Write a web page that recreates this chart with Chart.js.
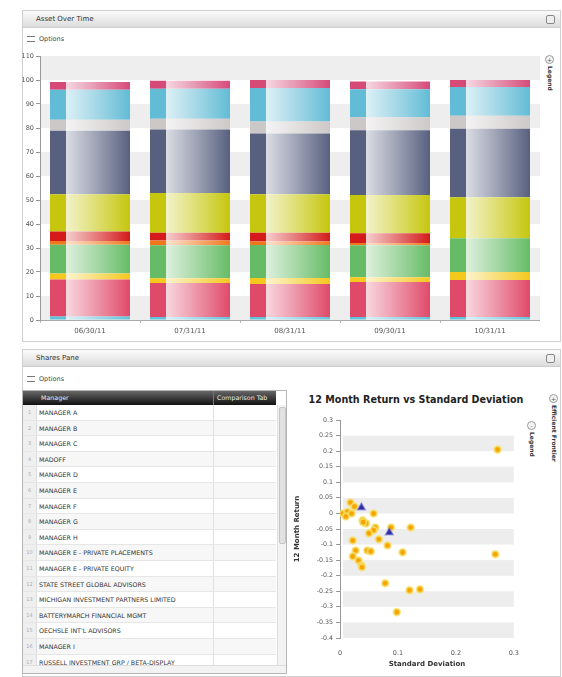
<!DOCTYPE html>
<html>
<head>
<meta charset="utf-8">
<script src="https://cdn.jsdelivr.net/npm/chart.js@4/dist/chart.umd.min.js"></script>
<style>
body{margin:0;width:562px;height:677px;background:#fff;position:relative;overflow:hidden;font-family:"DejaVu Sans",Verdana,sans-serif}
.panel{position:absolute;left:22px;width:537px;border:1px solid #cfcfcf;background:#fff}
.hdr{position:absolute;left:0;right:0;top:0;height:16px;background:linear-gradient(#fbfbfb,#dcdcdc);border-bottom:1px solid #cdcdcd;font-size:7px;color:#333;line-height:16px;padding-left:13px}
.hdr .ico{position:absolute;right:5px;top:4px;width:7px;height:7px;border:1px solid #888;border-radius:2px;background:#eee}
.opt{position:absolute;left:4px;font-size:6.5px;color:#444}
.opt i{display:inline-block;width:8px;height:4px;border-top:1px solid #777;border-bottom:1px solid #777;margin-right:4px;vertical-align:middle}
.vtab{position:absolute;font-size:6px;color:#333;writing-mode:vertical-rl;font-weight:bold}
.vico{position:absolute;width:7px;height:7px;border:1px solid #999;border-radius:50%;background:#f4f4f4;font-size:6px;line-height:7px;text-align:center;color:#555}
#grid{position:absolute;left:22px;top:390px;width:263px;height:282px;border:1px solid #b5b5b5;overflow:hidden;font-size:6.3px;color:#333}
#grid .th{position:absolute;left:0;top:0;width:253px;height:14px;background:linear-gradient(#666,#111);color:#eee;line-height:14px}
#grid .row{position:absolute;left:0;width:253px;height:15.6px;line-height:15.6px;border-bottom:1px solid #e6e6e6;box-sizing:border-box}
#grid .num{position:absolute;left:0;top:0;bottom:0;width:13px;background:#efefef;border-right:1px solid #ddd;color:#aaa;text-align:center;font-size:5px}
#grid .c1{position:absolute;left:16px}
#grid .c2{position:absolute;left:190px;top:0;bottom:0;border-left:1px solid #e0e0e0;width:63px}
#grid .sb{position:absolute;left:254px;top:14px;width:8px;bottom:8px;background:#f3f3f3;border-left:1px solid #ddd}
#grid .thumb{position:absolute;left:1px;top:2px;width:5px;height:135px;background:#e2e2e2;border:1px solid #c5c5c5;border-radius:2px}
#grid .hsb{position:absolute;left:0;right:0;bottom:0;height:7px;background:#f3f3f3;border-top:1px solid #ddd}
#ttl{position:absolute;left:296px;top:394px;width:240px;text-align:center;font-size:9.6px;font-weight:bold;color:#222}
</style>
</head>
<body>
<div class="panel" style="top:10px;height:330px">
  <div class="hdr">Asset Over Time<span class="ico"></span></div>
  <div class="opt" style="top:24px"><i></i>Options</div>
</div>
<div class="vico" style="left:545px;top:55px">+</div>
<div class="vtab" style="left:547px;top:66px">Legend</div>

<div class="panel" style="top:349px;height:326px">
  <div class="hdr">Shares Pane<span class="ico"></span></div>
  <div class="opt" style="top:25px"><i></i>Options</div>
</div>
<div id="grid"></div>
<div id="ttl">12 Month Return vs Standard Deviation</div>
<div class="vico" style="left:527px;top:421px">-</div>
<div class="vtab" style="left:529px;top:432px">Legend</div>
<div class="vico" style="left:549px;top:394px">+</div>
<div class="vtab" style="left:551px;top:405px">Efficient Frontier</div>

<div style="position:absolute;left:22px;top:50px;width:518px;height:290px"><canvas id="top"></canvas></div>
<div style="position:absolute;left:293px;top:410px;width:229px;height:262px"><canvas id="sc"></canvas></div>

<script>
// asset allocation, % per month end (bottom of stack first)
const periods = ["06/30/11", "07/31/11", "08/31/11", "09/30/11", "10/31/11"];
const cashLow    = [1.5, 1.3, 1.3, 1.3, 1.3];
const pinkRed    = [15.4, 14.1, 13.7, 14.5, 15.4];
const yellow     = [2.5, 2.0, 2.5, 2.0, 3.3];
const green      = [12.0, 13.7, 13.7, 13.3, 14.1];
const orange     = [1.5, 2.0, 1.5, 1.0, 0];
const red        = [4.0, 3.3, 3.7, 4.0, 0];
const lime       = [15.5, 16.5, 16.0, 16.0, 17.0];
const slate      = [26.5, 26.5, 25.3, 27.0, 28.6];
const grey       = [4.5, 4.5, 5.0, 5.4, 5.4];
const skyBlue    = [12.5, 12.5, 14.0, 11.6, 12.0];
const pinkTop    = [3.3, 3.3, 3.3, 3.3, 2.9];

const yTicksTop = [0, 10, 20, 30, 40, 50, 60, 70, 80, 90, 100, 110];

// scatter: [std dev, 12m return]
const managersPts = [
  [0.018, 0.035], [0.025, 0.022], [0.005, 0.0], [0.013, 0.005], [0.010, -0.010],
  [0.020, 0.0], [0.058, 0.0], [0.039, -0.022], [0.045, -0.032], [0.040, -0.028],
  [0.061, -0.045], [0.058, -0.054], [0.050, -0.064], [0.088, -0.045], [0.122, -0.045],
  [0.067, -0.083], [0.022, -0.087], [0.082, -0.103], [0.047, -0.119], [0.053, -0.122],
  [0.108, -0.125], [0.027, -0.119], [0.022, -0.138], [0.032, -0.151], [0.037, -0.167],
  [0.038, -0.173], [0.268, -0.131], [0.078, -0.224], [0.120, -0.247], [0.138, -0.244],
  [0.098, -0.317], [0.272, 0.205]
];
const benchPts = [[0.037, 0.019], [0.085, -0.061]];

const managers = [
  "MANAGER A", "MANAGER B", "MANAGER C", "MADOFF", "MANAGER D", "MANAGER E",
  "MANAGER F", "MANAGER G", "MANAGER H", "MANAGER E - PRIVATE PLACEMENTS",
  "MANAGER E - PRIVATE EQUITY", "STATE STREET GLOBAL ADVISORS",
  "MICHIGAN INVESTMENT PARTNERS LIMITED", "BATTERYMARCH FINANCIAL MGMT",
  "OECHSLE INT'L ADVISORS", "MANAGER I", "RUSSELL INVESTMENT GRP / BETA-DISPLAY"
];

// ---- grid ----
const grid = document.getElementById("grid");
let html = `<div class="th"><span class="num" style="background:none;border:0"></span>
  <span class="c1" style="left:18px">Manager</span>
  <span class="c2" style="border-color:#777;padding-left:3px">Comparison Tab</span></div>`;
managers.forEach((m, i) => {
  html += `<div class="row" style="top:${14 + i * 15.6}px;background:${i % 2 ? "#f7f7f7" : "#fff"}">
    <span class="num">${i + 1}</span><span class="c1">${m}</span><span class="c2"></span></div>`;
});
html += `<div class="sb"><div class="thumb"></div></div><div class="hsb"></div>`;
grid.innerHTML = html;

// ---- helpers ----
function lighten(hex, k) {
  const n = parseInt(hex.slice(1), 16);
  const r = n >> 16, g = (n >> 8) & 255, b = n & 255;
  const f = c => Math.round(c + (255 - c) * k);
  return `rgb(${f(r)},${f(g)},${f(b)})`;
}

function barFill(base) {
  return ctx => {
    const chart = ctx.chart, xs = chart.scales.x;
    if (!chart.chartArea || !xs || ctx.type !== "data") return base;
    const w = xs.width / periods.length * 0.8;
    const cx = xs.getPixelForValue(ctx.dataIndex);
    const g = chart.ctx.createLinearGradient(cx - w / 2, 0, cx + w / 2, 0);
    g.addColorStop(0, base);
    g.addColorStop(0.2, base);
    g.addColorStop(0.205, lighten(base, 0.78));
    g.addColorStop(0.55, lighten(base, 0.45));
    g.addColorStop(1, base);
    return g;
  };
}

const bands = (step, color) => ({
  id: "bands",
  beforeDatasetsDraw(chart) {
    const { ctx, chartArea: a, scales: { y } } = chart;
    ctx.save();
    ctx.fillStyle = color;
    for (let v = y.min; v < y.max - 1e-9; v += step * 2) {
      const top = y.getPixelForValue(Math.min(v + step, y.max)), bot = y.getPixelForValue(v);
      ctx.fillRect(a.left + 1, top, a.right - a.left, bot - top);
    }
    ctx.restore();
  }
});

// ---- stacked bars ----
const layers = [
  ["Cash", cashLow, "#62c2da"],
  ["Domestic Equity", pinkRed, "#e04a6a"],
  ["Convertibles", yellow, "#f4c81c"],
  ["Fixed Income", green, "#66bc66"],
  ["High Yield", orange, "#f0781c"],
  ["Emerging Markets", red, "#d41a1a"],
  ["International Equity", lime, "#c6c60e"],
  ["Private Equity", slate, "#586080"],
  ["Real Estate", grey, "#cdc8c8"],
  ["Hedge Funds", skyBlue, "#62bcd6"],
  ["Other", pinkTop, "#d64a78"]
];

new Chart(document.getElementById("top"), {
  type: "bar",
  data: {
    labels: periods,
    datasets: layers.map(([label, data, c]) => ({
      label, data, backgroundColor: barFill(c), borderWidth: 0,
      barPercentage: 0.8, categoryPercentage: 1
    }))
  },
  options: {
    responsive: true, maintainAspectRatio: false, animation: false,
    layout: { padding: { top: 6 } },
    plugins: { legend: { display: false }, tooltip: { enabled: false } },
    scales: {
      x: {
        stacked: true,
        grid: { display: true, drawOnChartArea: false, tickLength: 3, color: "#bbb", offset: true },
        border: { color: "#aaa" },
        ticks: { color: "#555", font: { size: 7, family: "DejaVu Sans" }, padding: 4 },
        afterFit: s => { s.height = 20; }
      },
      y: {
        stacked: true, min: 0, max: 110,
        afterBuildTicks: s => { s.ticks = yTicksTop.map(v => ({ value: v })); },
        grid: { display: true, drawOnChartArea: false, tickLength: 4, color: "#999" },
        border: { color: "#999" },
        ticks: { color: "#555", font: { size: 6.5, family: "DejaVu Sans" }, padding: 2 },
        afterFit: s => { s.width = 18; }
      }
    }
  },
  plugins: [bands(10, "#eeeeee")]
});

// ---- scatter ----
const toXY = arr => arr.map(([x, y]) => ({ x, y }));
new Chart(document.getElementById("sc"), {
  type: "scatter",
  data: {
    datasets: [
      { label: "Benchmarks", data: toXY(benchPts), pointStyle: "triangle", radius: 4.5,
        backgroundColor: "#2e2ea0", borderColor: "rgba(110,110,220,0.55)", borderWidth: 1.5 },
      { label: "Managers", data: toXY(managersPts), pointStyle: "circle", radius: 3.3,
        backgroundColor: "#f5a400", borderColor: "rgba(246,226,110,0.75)", borderWidth: 2 }
    ]
  },
  options: {
    responsive: true, maintainAspectRatio: false, animation: false,
    layout: { padding: { top: 10, right: 3 } },
    plugins: { legend: { display: false }, tooltip: { enabled: false } },
    scales: {
      x: {
        min: 0, max: 0.3,
        ticks: { stepSize: 0.1, color: "#555", font: { size: 6.5, family: "DejaVu Sans" },
          callback: v => String(parseFloat(v.toFixed(2))) },
        grid: { display: false },
        border: { display: false },
        title: { display: true, text: "Standard Deviation", color: "#333", padding: { top: 4 },
          font: { size: 7, weight: "bold", family: "DejaVu Sans" } },
        afterFit: s => { s.height = 34; }
      },
      y: {
        min: -0.4, max: 0.3,
        ticks: { stepSize: 0.05, color: "#555", font: { size: 6.3, family: "DejaVu Sans" }, padding: 3,
          callback: v => String(parseFloat(v.toFixed(2))) },
        grid: { display: true, drawOnChartArea: false, tickLength: 4, color: "#999" },
        border: { color: "#999" },
        title: { display: true, text: "12 Month Return", color: "#333", padding: 0,
          font: { size: 7, weight: "bold", family: "DejaVu Sans" } },
        afterFit: s => { s.width = 47; }
      }
    }
  },
  plugins: [{
    id: "scBands",
    beforeDatasetsDraw(chart) {
      const { ctx, chartArea: a, scales: { y } } = chart;
      ctx.save();
      ctx.fillStyle = "#ededed";
      for (let k = -4; k <= 2; k++) {
        const top = y.getPixelForValue(k * 0.1 + 0.05), bot = y.getPixelForValue(k * 0.1);
        ctx.fillRect(a.left + 3, top, a.right - a.left - 3, bot - top);
      }
      ctx.restore();
    }
  }]
});
</script>
</body>
</html>
